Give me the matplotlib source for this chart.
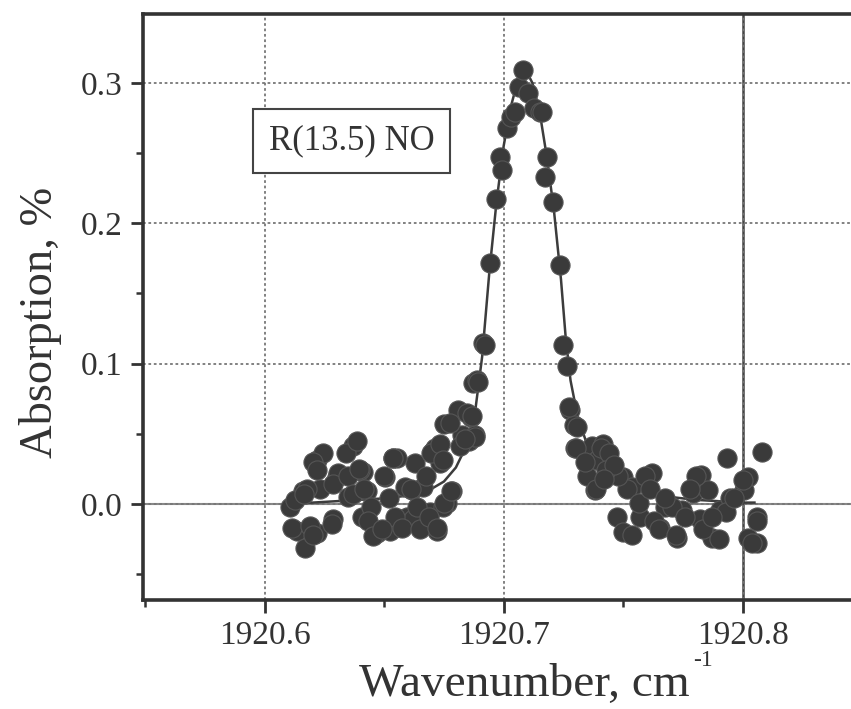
import numpy as np
import matplotlib
matplotlib.use("Agg")
import matplotlib.pyplot as plt
from matplotlib.ticker import MultipleLocator

wn_left = [1920.6105, 1920.6159, 1920.6134, 1920.6167, 1920.6218, 1920.6230, 1920.6218,
           1920.6285, 1920.6301, 1920.6368, 1920.6347, 1920.6410, 1920.6427, 1920.6427,
           1920.6469, 1920.6502, 1920.6523, 1920.6536, 1920.6594, 1920.6615, 1920.6628,
           1920.6649, 1920.6690, 1920.6720, 1920.6703, 1920.6732, 1920.6762, 1920.6782,
           1920.6243, 1920.6201, 1920.6305, 1920.6397, 1920.6176, 1920.6126, 1920.6113,
           1920.6188, 1920.6280, 1920.6406, 1920.6552, 1920.6586, 1920.6619, 1920.6661,
           1920.6745, 1920.6711, 1920.6200, 1920.6163,
           1920.6219, 1920.6284, 1920.6340, 1920.6387, 1920.6350, 1920.6396, 1920.6368,
           1920.6415, 1920.6443, 1920.6434, 1920.6452, 1920.6500, 1920.6536, 1920.6518,
           1920.6546, 1920.6490, 1920.6574, 1920.6611, 1920.6639, 1920.6649, 1920.6695,
           1920.6677, 1920.6686, 1920.6723, 1920.6751, 1920.6779, 1920.6733, 1920.6751,
           1920.6807, 1920.6826, 1920.6864, 1920.6854, 1920.6882]
abs_left = [-0.002, 0.009, -0.019, -0.031, -0.021, 0.011, 0.031,
            -0.011, 0.019, 0.041, 0.005, 0.023, 0.009, -0.011,
            -0.021, 0.019, -0.019, 0.033, -0.009, 0.010, 0.029,
            -0.016, -0.006, -0.019, 0.038, 0.029, 0.001, 0.009,
            0.036, 0.030, 0.022, 0.024, 0.011, 0.003, -0.017,
            -0.016, -0.014, -0.009, 0.033, 0.012, -0.011, 0.012,
            -0.002, 0.040, -0.022, 0.007,
            0.024, 0.014, 0.036, 0.045, 0.020, 0.025, 0.007,
            0.011, -0.002, -0.012, -0.023, 0.020, 0.033, 0.004,
            -0.009, -0.018, -0.017, 0.011, -0.002, -0.018, 0.036,
            0.020, -0.009, -0.017, 0.001, 0.009, 0.043, 0.057,
            0.067, 0.049, 0.062, 0.045, 0.049]

wn_peak = [1920.6774, 1920.6816, 1920.6845, 1920.6879, 1920.6870, 1920.6866, 1920.6837,
           1920.6887, 1920.6745, 1920.6892, 1920.6912, 1920.6921, 1920.6941, 1920.6970,
           1920.6983, 1920.6995, 1920.7013, 1920.7030, 1920.7046, 1920.7065, 1920.7080,
           1920.7100, 1920.7125, 1920.7153, 1920.7159, 1920.7180, 1920.7172, 1920.7205,
           1920.7234, 1920.7247, 1920.7264, 1920.7276, 1920.7293, 1920.7305]
abs_peak = [0.058, 0.041, 0.065, 0.048, 0.086, 0.063, 0.046,
            0.088, 0.031, 0.087, 0.115, 0.113, 0.172, 0.217,
            0.247, 0.238, 0.268, 0.276, 0.279, 0.297, 0.309,
            0.293, 0.282, 0.279, 0.279, 0.247, 0.233, 0.215,
            0.170, 0.113, 0.098, 0.067, 0.056, 0.055]

wn_right = [1920.7297, 1920.7368, 1920.7414, 1920.7389, 1920.7381, 1920.7498, 1920.7536,
            1920.7619, 1920.7473, 1920.7498, 1920.7569, 1920.7653, 1920.7724, 1920.7674,
            1920.7745, 1920.7791, 1920.7828, 1920.7854, 1920.7820, 1920.7874, 1920.7904,
            1920.7946, 1920.7937, 1920.8021, 1920.8008, 1920.8059, 1920.8021, 1920.8059,
            1920.8080, 1920.7406, 1920.7443, 1920.7518, 1920.7565, 1920.7593, 1920.7611,
            1920.7630, 1920.7649, 1920.7705, 1920.7761, 1920.7807, 1920.7835, 1920.7929,
            1920.8041, 1920.7536,
            1920.7275, 1920.7303, 1920.7350, 1920.7387, 1920.7480, 1920.7677, 1920.7779,
            1920.7873, 1920.7901, 1920.7966, 1920.8004, 1920.8060, 1920.7723, 1920.7430,
            1920.7460, 1920.7340, 1920.7420]
abs_right = [0.040, 0.041, 0.043, 0.031, 0.010, 0.019, 0.012,
             0.022, -0.009, -0.020, -0.009, -0.017, -0.024, -0.002,
             -0.004, 0.008, 0.021, 0.010, -0.011, -0.024, -0.004,
             0.004, 0.033, 0.019, 0.010, -0.009, -0.024, -0.028,
             0.037, 0.040, 0.036, 0.011, 0.001, 0.020, 0.011,
             -0.012, -0.018, -0.002, -0.009, 0.020, -0.018, -0.006,
             -0.028, -0.022,
             0.069, 0.040, 0.020, 0.011, 0.020, 0.004, 0.011,
             -0.009, -0.025, 0.004, 0.017, -0.012, -0.022, 0.024,
             0.028, 0.030, 0.018]

# fitted profile
wn_fit = [1920.610, 1920.620, 1920.630, 1920.640, 1920.650, 1920.660, 1920.665, 1920.670,
          1920.675, 1920.680, 1920.684, 1920.688, 1920.691, 1920.694, 1920.697, 1920.700,
          1920.703, 1920.706, 1920.709, 1920.712, 1920.715, 1920.718, 1920.721, 1920.724,
          1920.726, 1920.728, 1920.731, 1920.735, 1920.740, 1920.745, 1920.750, 1920.760,
          1920.770, 1920.780, 1920.790, 1920.800, 1920.805]
abs_fit = [0.000, 0.001, 0.002, 0.003, 0.004, 0.006, 0.008, 0.011,
           0.016, 0.026, 0.040, 0.065, 0.105, 0.165, 0.215, 0.255,
           0.283, 0.302, 0.310, 0.300, 0.280, 0.248, 0.210, 0.160,
           0.118, 0.088, 0.062, 0.042, 0.028, 0.020, 0.014, 0.008,
           0.005, 0.003, 0.002, 0.001, 0.001]

label = "R(13.5) NO"

plt.rcParams['font.family'] = ['Liberation Serif', 'DejaVu Serif']

fig = plt.figure(figsize=(8.51, 7.09), dpi=100)
ax = fig.add_axes([0.168, 0.1537, 0.901, 0.8265])

x = np.array(wn_left + wn_peak + wn_right)
y = np.array(abs_left + abs_peak + abs_right)

ax.plot(wn_fit, abs_fit, color="#3c3c3c", lw=1.8, zorder=3)
ax.scatter(x, y, s=190, color="#3a3a3a", edgecolors="#555555", linewidths=0.8, zorder=4)

ax.set_xlim(1920.549, 1920.87)
ax.set_ylim(-0.0684, 0.349)

ax.xaxis.set_major_locator(MultipleLocator(0.1))
ax.xaxis.set_minor_locator(MultipleLocator(0.05))
ax.yaxis.set_major_locator(MultipleLocator(0.1))
ax.yaxis.set_minor_locator(MultipleLocator(0.05))
ax.xaxis.set_major_formatter(plt.FuncFormatter(lambda v, p: "%.1f" % v))
ax.yaxis.set_major_formatter(plt.FuncFormatter(lambda v, p: "%.1f" % v))

ax.tick_params(which="major", direction="out", length=9, width=2, labelsize=24,
               colors="#333333", pad=6)
ax.tick_params(which="minor", direction="out", length=5, width=1.8, colors="#333333")
ax.tick_params(top=False, right=False)

ax.grid(True, which="major", linestyle=(0, (1.5, 1.5)), color="#777777", lw=1.3, zorder=1)
# the zero line and the 1920.8 line look solid in the scan
ax.axhline(0.0, color="#888888", lw=1.5, zorder=1.5)
ax.axvline(1920.8, color="#444444", lw=1.8, zorder=1.5)

for s in ["left", "bottom", "top"]:
    ax.spines[s].set_linewidth(2.6)
    ax.spines[s].set_color("#333333")
ax.spines["right"].set_visible(False)

ax.set_xlabel("Wavenumber, cm", fontsize=34, color="#333333", labelpad=9)
ax.xaxis.label.set_x(0.498)
ax.annotate("-1", xy=(1.01, 1.09), xycoords=ax.xaxis.label, fontsize=17,
            color="#333333", ha="left", va="center")
ax.set_ylabel("Absorption, %", fontsize=33.5, color="#333333", labelpad=13)
ax.yaxis.label.set_y(0.473)

ax.text(1920.6364, 0.2587, label, fontsize=25, color="#333333", ha="center", va="center",
        bbox=dict(boxstyle="square,pad=0.45", facecolor="white", edgecolor="#444444", lw=1.5),
        zorder=5)

fig.savefig("out.png", dpi=100)
